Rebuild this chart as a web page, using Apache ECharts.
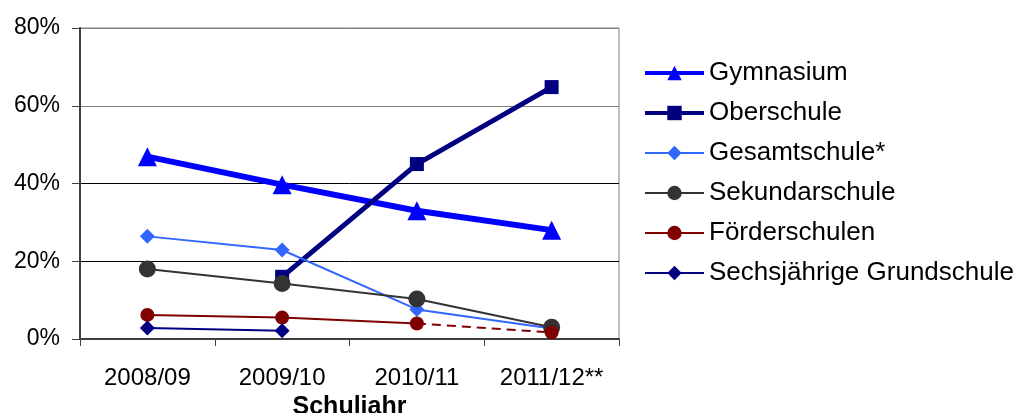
<!DOCTYPE html>
<html>
<head>
<meta charset="utf-8">
<script src="https://cdn.jsdelivr.net/npm/echarts@6/dist/echarts.min.js"></script>
<style>
  html, body { margin: 0; padding: 0; background: #fff; }
  #chart { width: 1019px; height: 413px; }
</style>
</head>
<body>
<div id="chart"></div>
<script>
// School years and shares (%) per school type
const years = ['2008/09', '2009/10', '2010/11', '2011/12**'];
const yTicks = [0, 20, 40, 60, 80];

const gymnasium = [46.9, 39.7, 33.0, 28.0];
const oberschule = [null, 16.0, 45.0, 64.8];
const gesamtschule = [26.4, 22.9, 7.6, 2.7];
const sekundarschule = [18.0, 14.3, 10.3, 3.0];
const foerderschulen = [6.2, 5.5, 4.0, null];
const foerderschulenTrend = [null, null, 4.0, 1.7];
const sechsjaehrige = [2.8, 2.1, null, null];

const FONT = 'Liberation Sans, Arial, sans-serif';

const chart = echarts.init(document.getElementById('chart'), null, { renderer: 'canvas' });

function lineSeries(name, data, color, width, symbol, size) {
  return {
    name: name,
    type: 'line',
    data: data,
    symbol: symbol,
    symbolSize: size,
    showSymbol: true,
    connectNulls: false,
    lineStyle: { color: color, width: width },
    itemStyle: { color: color, borderWidth: 0 },
    emphasis: { disabled: true },
    animation: false
  };
}

// projected segment 2010/11 -> 2011/12 drawn dashed
const dashed = lineSeries('Förderschulen 2011/12', foerderschulenTrend, '#800000', 2, 'circle', 14);
dashed.lineStyle.type = [9, 6];
dashed.data = foerderschulenTrend.map((v, i) => (i === 2 ? { value: v, symbol: 'none' } : v));

function legendItem(name, width) {
  return { name: name, lineStyle: { width: width } };
}

const option = {
  backgroundColor: '#ffffff',
  animation: false,
  grid: {
    left: 80, right: 400, top: 28, bottom: 74,
    show: true, borderColor: '#808080', borderWidth: 1,
    containLabel: false,
    outerBoundsMode: 'none'
  },
  legend: {
    orient: 'vertical',
    left: 643,
    top: 60,
    padding: 0,
    itemWidth: 59,
    itemHeight: 18,
    itemGap: 14,
    itemTextGap: 5,
    data: [
      legendItem('Gymnasium', 4),
      legendItem('Oberschule', 4),
      legendItem('Gesamtschule*', 2),
      legendItem('Sekundarschule', 2),
      legendItem('Förderschulen', 2),
      legendItem('Sechsjährige Grundschule', 2)
    ],
    textStyle: { fontFamily: FONT, fontSize: 26, lineHeight: 26, color: '#000' },
    selectedMode: false
  },
  xAxis: {
    type: 'category',
    data: years,
    boundaryGap: true,
    name: 'Schuljahr',
    nameLocation: 'middle',
    nameGap: 50,
    nameTextStyle: { fontFamily: FONT, fontSize: 25, fontWeight: 'bold', color: '#000' },
    axisLine: { lineStyle: { color: '#404040', width: 2 } },
    axisTick: { show: true, length: 7, lineStyle: { color: '#404040', width: 1 } },
    axisLabel: { fontFamily: FONT, fontSize: 24, color: '#000', margin: 27 },
    splitLine: { show: false }
  },
  yAxis: {
    type: 'value',
    min: yTicks[0],
    max: yTicks[yTicks.length - 1],
    interval: 20,
    axisLine: { show: true, lineStyle: { color: '#404040', width: 2 } },
    axisTick: { show: true, length: 8, lineStyle: { color: '#404040', width: 1 } },
    axisLabel: { fontFamily: FONT, fontSize: 23, color: '#000', margin: 20, formatter: '{value}%' },
    splitLine: { show: true, lineStyle: { color: ['#000', '#000', '#000', '#808080', '#808080'], width: 1 } }
  },
  series: [
    lineSeries('Gymnasium', gymnasium, '#0000FF', 6, 'triangle', 19),
    lineSeries('Oberschule', oberschule, '#000080', 5, 'rect', 14),
    lineSeries('Gesamtschule*', gesamtschule, '#3366FF', 2, 'diamond', 15),
    lineSeries('Sekundarschule', sekundarschule, '#333333', 2, 'circle', 17),
    lineSeries('Förderschulen', foerderschulen, '#800000', 2, 'circle', 14),
    dashed,
    lineSeries('Sechsjährige Grundschule', sechsjaehrige, '#000080', 2, 'diamond', 15)
  ]
};

chart.setOption(option);
</script>
</body>
</html>
